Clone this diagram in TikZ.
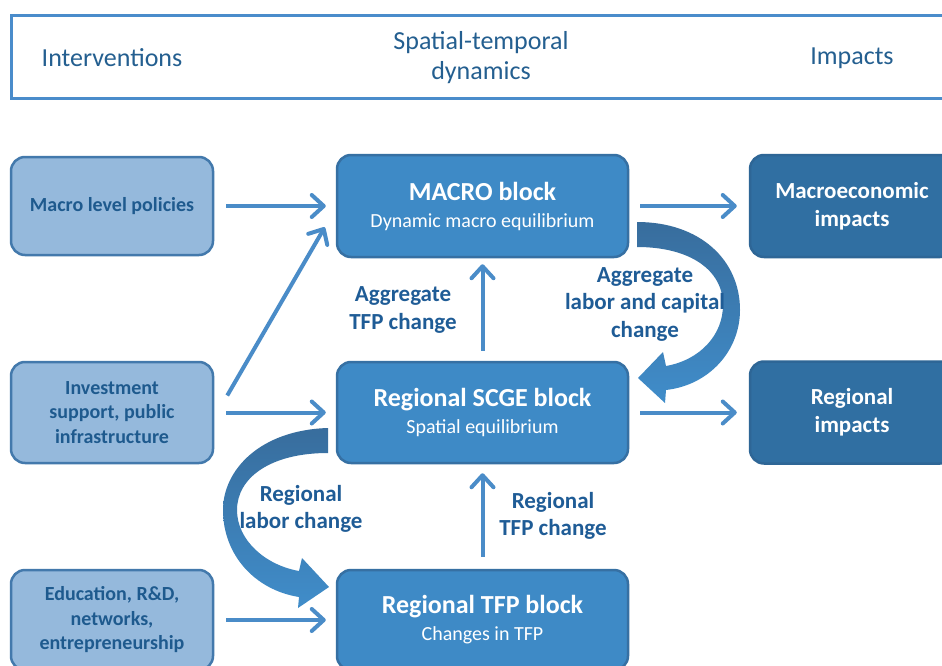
\documentclass[tikz,border=0pt]{standalone}
\usepackage{fontspec}
\setmainfont{Carlito}
\usetikzlibrary{arrows.meta}
\definecolor{hdrline}{HTML}{4A8CCB}
\definecolor{hdrtext}{HTML}{245F90}
\definecolor{leftfill}{HTML}{95B9DC}
\definecolor{leftline}{HTML}{4379AC}
\definecolor{lefttext}{HTML}{1E5A8E}
\definecolor{midfill}{HTML}{3E8AC6}
\definecolor{midline}{HTML}{3670A3}
\definecolor{rightfill}{HTML}{306FA2}
\definecolor{rightline}{HTML}{2E6696}
\definecolor{arrowblue}{HTML}{4A8CC8}
\definecolor{labeltext}{HTML}{1F5C96}
\definecolor{curvetop}{HTML}{386D9D}
\definecolor{curvebot}{HTML}{408DCA}
\newcommand\blocktext[2]{{\fontsize{26}{30}\selectfont\bfseries #1}\\{\fontsize{20}{27}\selectfont #2}}
\begin{document}
\begin{tikzpicture}[x=1pt,y=-1pt,
  box/.style={rounded corners=14pt, line width=2.5pt, inner sep=0pt, align=center},
  leftbox/.style={box, draw=leftline, fill=leftfill, text=lefttext, minimum width=202pt,
    font=\fontsize{20}{24.5}\selectfont\bfseries},
  midbox/.style={box, draw=midline, fill=midfill, text=white, minimum width=291pt,
    font=\fontsize{20}{27}\selectfont},
  rightbox/.style={box, draw=rightline, fill=rightfill, text=white, minimum width=204pt,
    minimum height=102pt, font=\fontsize{23}{28}\selectfont\bfseries},
  arr/.style={draw=arrowblue, line width=4pt, -{Straight Barb[length=12pt,width=22pt,round]}},
  lbl/.style={text=labeltext, align=center, font=\fontsize{23}{27.5}\selectfont\bfseries},
  hdr/.style={text=hdrtext, align=center, font=\fontsize{26}{30}\selectfont},
  curvearrow/.style={top color=curvetop, bottom color=curvebot, draw=none}
]
\useasboundingbox (0,0) rectangle (942,666);
\clip (0,0) rectangle (942,666);
\fill[white] (0,0) rectangle (942,666);

% header
\node[draw=hdrline, line width=3pt, fill=white, inner sep=0pt, minimum width=950pt,
  minimum height=83pt, anchor=north west] (header) at (10,14) {};
\node[hdr] (hint) at (112,58) {Interventions};
\node[hdr] (hdyn) at (481,58) {Spatial-temporal\\dynamics};
\node[hdr] (himp) at (852,58) {Impacts};

% left boxes
\node[leftbox, minimum height=98pt] (mlp) at (112,206) {Macro level policies};
\node[leftbox, minimum height=101pt] (inv) at (112,412.5) {Investment\\support, public\\infrastructure};
\node[leftbox, minimum height=100pt] (edu) at (112,620) {Education, R\&D,\\networks,\\entrepreneurship};

% middle boxes
\node[midbox, minimum height=102pt] (macro) at (482.5,206) {\blocktext{MACRO block}{Dynamic macro equilibrium}};
\node[midbox, minimum height=101pt] (scge) at (482.5,412.5) {\blocktext{Regional SCGE block}{Spatial equilibrium}};
\node[midbox, minimum height=100pt] (tfp) at (482.5,620) {\blocktext{Regional TFP block}{Changes in TFP}};

% right boxes
\node[rightbox] (macroecon) at (852,206) {Macroeconomic\\impacts};
\node[rightbox] (regimp) at (852,412.5) {Regional\\impacts};

% straight arrows
\draw[arr, shorten <=12pt, shorten >=10pt] (mlp) -- (macro);
\draw[arr, shorten <=12pt, shorten >=10pt] (inv) -- (scge);
\draw[arr, shorten <=12pt, shorten >=10pt] (edu) -- (tfp);
\draw[arr] ([shift={(13,-17)}]inv.east) -- ([shift={(-11,-31)}]macro.south west);
\draw[arr, shorten <=11pt, shorten >=12pt] (macro) -- (macroecon);
\draw[arr, shorten <=11pt, shorten >=12pt] (scge) -- (regimp);
\draw[arr, shorten <=10pt, shorten >=6pt] (scge) -- (macro);
\draw[arr, shorten <=12pt, shorten >=9pt] (tfp) -- (scge);

% curved block arrows
\path[curvearrow] (637,222) .. controls (700,222) and (740,260) .. (740,310)
  .. controls (740,350) and (710,385) .. (666,390) -- (665,403) -- (638,378) -- (663,352) -- (666,366)
  .. controls (700,360) and (723,335) .. (723,305)
  .. controls (723,270) and (690,247) .. (637,247) -- cycle;
\path[curvearrow] (328,428) .. controls (260,430) and (223,470) .. (223,510)
  .. controls (223,555) and (255,590) .. (299,597) -- (298,608) -- (329,587) -- (302,558) -- (299,571)
  .. controls (265,565) and (237,540) .. (237,510)
  .. controls (237,478) and (270,453) .. (328,453) -- cycle;

% labels
\node[lbl] (lagg) at (403,310) {Aggregate\\TFP change};
\node[lbl] (llab) at (645,304) {Aggregate\\labor and capital\\change};
\node[lbl] (lreg) at (301,509) {Regional\\labor change};
\node[lbl] (ltfp) at (553,516) {Regional\\TFP change};
\end{tikzpicture}
\end{document}
